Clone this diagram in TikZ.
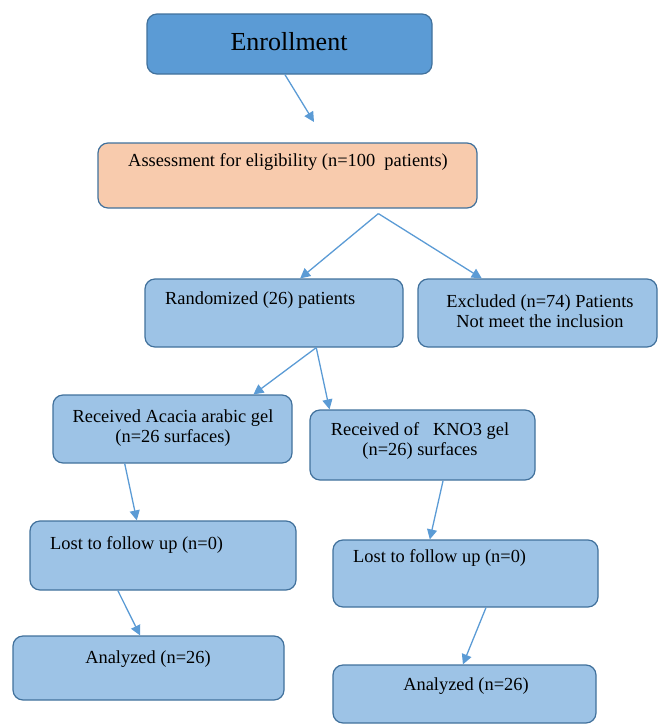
\documentclass[tikz,border=0pt]{standalone}
\usepackage{fontspec}
\setmainfont{Liberation Serif}
\usetikzlibrary{arrows.meta,calc}
\definecolor{dkblue}{HTML}{5B9BD5}
\definecolor{ltblue}{HTML}{9DC3E6}
\definecolor{peach}{HTML}{F8CBAD}
\definecolor{edge}{HTML}{41719C}
\begin{document}
\begin{tikzpicture}[x=1pt,y=1pt,
  box/.style={draw=edge,line width=1.2pt,rounded corners=10pt,fill=ltblue,
    minimum width=#1,inner sep=0pt},
  txt/.style={inner sep=0pt,align=center,font=\fontsize{18.4}{19.5}\selectfont},
  arr/.style={draw=dkblue,line width=1.3pt,-{Triangle[length=10pt,width=10pt]}}]
\useasboundingbox (0,0) rectangle (658,-724);
% boxes
\node[box=285pt,minimum height=60pt,fill=dkblue] (enr) at (289.5,-44) {};
\node[box=379pt,minimum height=65pt,fill=peach] (ass) at (287.5,-175.5) {};
\node[box=258pt,minimum height=68pt] (rand) at (274,-313) {};
\node[box=239pt,minimum height=68pt] (excl) at (537.5,-313) {};
\node[box=239pt,minimum height=68pt] (acac) at (172.5,-429) {};
\node[box=225pt,minimum height=70pt] (kno) at (422.5,-445) {};
\node[box=266pt,minimum height=69pt] (lost1) at (163,-555.5) {};
\node[box=265pt,minimum height=67pt] (lost2) at (465.5,-573.5) {};
\node[box=271pt,minimum height=64pt] (an1) at (148.5,-668) {};
\node[box=263pt,minimum height=58pt] (an2) at (464.5,-694) {};
% texts
\node[txt,font=\fontsize{26}{28}\selectfont] (tenr) at (289,-42) {Enrollment};
\node[txt] (tass) at (288,-162) {Assessment for eligibility (n=100\ \ patients)};
\node[txt,anchor=west] (trand) at (165,-300) {Randomized (26) patients};
\node[txt] (texcl) at (540,-311) {Excluded (n=74) Patients\\Not meet the inclusion};
\node[txt] (tacac) at (173,-428) {Received Acacia arabic gel\\(n=26 surfaces)};
\node[txt] (tkno) at (420,-441) {Received of \ \ KNO3 gel\\(n=26) surfaces};
\node[txt,anchor=west] (tlost1) at (50,-545) {Lost to follow up (n=0)};
\node[txt,anchor=west] (tlost2) at (353,-558) {Lost to follow up (n=0)};
\node[txt] (tan1) at (148,-659) {Analyzed (n=26)};
\node[txt] (tan2) at (466,-686) {Analyzed (n=26)};
% connector points
\coordinate (a1s) at ($(enr.south west)!0.484!(enr.south east)$);
\coordinate (a1e) at (314,-122);
\coordinate (a2s) at ([yshift=-5pt]$(ass.south west)!0.739!(ass.south east)$);
\coordinate (a2e) at ($(rand.north west)!0.601!(rand.north east)$);
\coordinate (a3e) at ($(excl.north west)!0.268!(excl.north east)$);
\coordinate (a4s) at ($(rand.south west)!0.663!(rand.south east)$);
\coordinate (a4e) at ($(acac.north west)!0.837!(acac.north east)$);
\coordinate (a5e) at ($(kno.north west)!0.089!(kno.north east)$);
\coordinate (a6s) at ($(acac.south west)!0.301!(acac.south east)$);
\coordinate (a6e) at ($(lost1.north west)!0.402!(lost1.north east)$);
\coordinate (a7s) at ($(kno.south west)!0.591!(kno.south east)$);
\coordinate (a7e) at ($(lost2.north west)!0.366!(lost2.north east)$);
\coordinate (a8s) at ($(lost1.south west)!0.331!(lost1.south east)$);
\coordinate (a8e) at ($(an1.north west)!0.469!(an1.north east)$);
\coordinate (a9s) at ($(lost2.south west)!0.577!(lost2.south east)$);
\coordinate (a9e) at ($(an2.north west)!0.494!(an2.north east)$);
% connectors
\draw[arr] (a1s) -- (a1e);
\draw[arr] (a2s) -- (a2e);
\draw[arr] (a2s) -- (a3e);
\draw[arr] (a4s) -- (a4e);
\draw[arr] (a4s) -- (a5e);
\draw[arr] (a6s) -- (a6e);
\draw[arr] (a7s) -- (a7e);
\draw[arr] (a8s) -- (a8e);
\draw[arr] (a9s) -- (a9e);
\end{tikzpicture}
\end{document}
